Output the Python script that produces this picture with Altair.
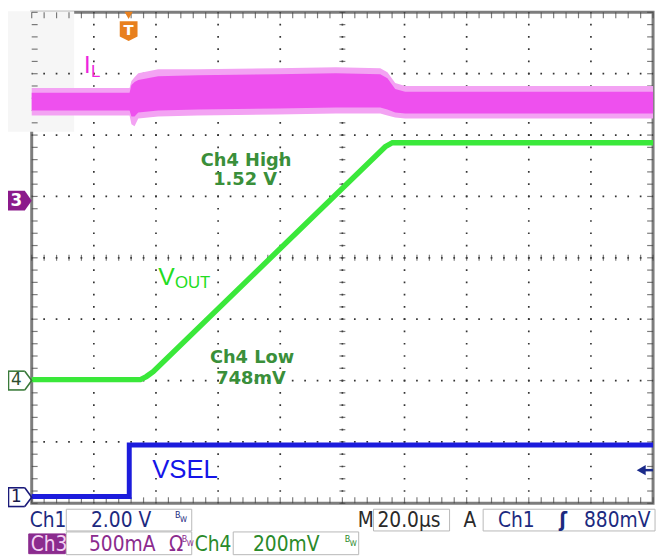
import altair as alt
import pandas as pd

# ------------------------------------------------------------------ scope data
# horizontal: 20 us/div, 10 divisions, trigger point (T) at 0 us
T_START = -31.2
T_DIV = 20.0
N_HDIV = 10
T_END = T_START + T_DIV * N_HDIV
N_VDIV = 8
T_TRIG = 0.0

# channel settings (units per division, marker position in divisions)
CH1_SCALE, CH1_POS = 2.0, -3.9                      # VSEL   (V/div)
CH3_SCALE, CH3_POS = 0.5, 0.93                      # IL     (A/div)
CH4_SCALE, CH4_POS, CH4_OFFSET = 0.2, -2.0, 0.745   # VOUT   (V/div)
TRIG_LEVEL = 0.88                                   # V on Ch1

# VSEL (Ch1) in volts
vsel_t = [T_START, 0.2, 0.2, T_END]
vsel_v = [0.02, 0.02, 1.70, 1.70]

# VOUT (Ch4) in volts
vout_t = [T_START, 3.8, 5.7, 7.9, 82.6, 84.9, T_END]
vout_v = [0.748, 0.748, 0.758, 0.774, 1.507, 1.520, 1.520]

# IL (Ch3) ripple in amps: spike envelope and dense core
il_t = [T_START, 0.3, 0.9, 1.9, 3.1, 9.5, 22.2, 47.7, 66.7, 81.0, 83.3, 85.8, 89.0, T_END]
il_peak_hi = [0.919, 0.919, 0.975, 1.007, 1.039, 1.071, 1.071, 1.079, 1.087, 1.079, 1.047, 0.959, 0.935, 0.935]
il_peak_lo = [0.695, 0.695, 0.623, 0.607, 0.671, 0.687, 0.695, 0.703, 0.711, 0.711, 0.695, 0.679, 0.671, 0.671]
il_core_hi = [0.879, 0.879, 0.943, 0.967, 0.983, 1.015, 1.023, 1.031, 1.039, 1.031, 0.999, 0.911, 0.887, 0.887]
il_core_lo = [0.735, 0.735, 0.687, 0.687, 0.719, 0.735, 0.743, 0.751, 0.759, 0.759, 0.743, 0.719, 0.711, 0.711]

# ------------------------------------------------------------------ tables
vsel_df = pd.DataFrame({"i": range(len(vsel_t)), "t": vsel_t,
                        "d": [v / CH1_SCALE + CH1_POS for v in vsel_v]})
vout_df = pd.DataFrame({"i": range(len(vout_t)), "t": vout_t,
                        "d": [(v - CH4_OFFSET) / CH4_SCALE + CH4_POS for v in vout_v]})


def ch3(a):
    return a / CH3_SCALE + CH3_POS


il_df = pd.DataFrame({"t": il_t,
                      "phi": [ch3(a) for a in il_peak_hi], "plo": [ch3(a) for a in il_peak_lo],
                      "chi": [ch3(a) for a in il_core_hi], "clo": [ch3(a) for a in il_core_lo]})

W, H = 629, 497
xs = alt.Scale(domain=[T_START, T_END], nice=False, zero=False)
ys = alt.Scale(domain=[-N_VDIV / 2, N_VDIV / 2], nice=False, zero=False)


def X(f):
    return alt.X(f, type="quantitative", scale=xs, axis=None)


def Y(f):
    return alt.Y(f, type="quantitative", scale=ys, axis=None)


ONE = pd.DataFrame({"k": [0]})
PX0, PY0 = 32, 9          # page position of plot origin


def ipy(y):               # in-plot annotation y (reference page px -> plot px)
    return (y - 6) * H / 500


def label(text, x, y, size, color, font="Liberation Sans", weight="normal",
          align="left", baseline="alphabetic", inplot=True):
    py = ipy(y) if inplot else y - PY0
    return alt.Chart(ONE).mark_text(
        text=text, fontSize=size, color=color, font=font, fontWeight=weight,
        align=align, baseline=baseline
    ).encode(x=alt.value(x - PX0), y=alt.value(py))


def box(x1, x2, y1, y2, fill="white", stroke="#b8b8b8"):
    return alt.Chart(ONE).mark_rect(fill=fill, stroke=stroke, strokeWidth=1).encode(
        x=alt.value(x1 - PX0), x2=alt.value(x2 - PX0),
        y=alt.value(y1 - PY0), y2=alt.value(y2 - PY0))


layers = []

# faint screenshot block top-left
layers.append(alt.Chart(ONE).mark_rect(fill="#f6f6f6").encode(
    x=alt.value(-24), x2=alt.value(43), y=alt.value(-1), y2=alt.value(121)))

# ------------------------------------------------------------------ graticule
vgrid = pd.DataFrame({"t": [T_START + T_DIV * k for k in range(1, N_HDIV)]})
hgrid = pd.DataFrame({"d": [-N_VDIV / 2 + k for k in range(1, N_VDIV)]})
layers.append(alt.Chart(vgrid).mark_rule(
    color="#333", strokeWidth=1.7, strokeDash=[1.7, H / 40 - 1.7], strokeDashOffset=0.85
).encode(x=X("t"), y=alt.value(0), y2=alt.value(H)))
layers.append(alt.Chart(hgrid).mark_rule(
    color="#333", strokeWidth=1.7, strokeDash=[1.7, W / 50 - 1.7], strokeDashOffset=0.85
).encode(y=Y("d"), x=alt.value(0), x2=alt.value(W)))

minor_t = pd.DataFrame({"t": [T_START + T_DIV / 5 * k for k in range(N_HDIV * 5 + 1)]})
minor_t["mid"] = 0.0
minor_d = pd.DataFrame({"d": [-N_VDIV / 2 + 0.2 * k for k in range(N_VDIV * 5 + 1)]})
minor_d["mid"] = T_START + T_DIV * N_HDIV / 2
tick_col = "#444"
layers += [
    alt.Chart(minor_t).mark_tick(orient="vertical", size=6, thickness=1.2, color=tick_col, yOffset=3)
    .encode(x=X("t"), y=alt.value(0)),
    alt.Chart(minor_t).mark_tick(orient="vertical", size=6, thickness=1.2, color=tick_col, yOffset=-3)
    .encode(x=X("t"), y=alt.value(H)),
    alt.Chart(minor_t).mark_tick(orient="vertical", size=6, thickness=1.2, color=tick_col)
    .encode(x=X("t"), y=Y("mid")),
    alt.Chart(minor_d).mark_tick(orient="horizontal", size=6, thickness=1.2, color=tick_col, xOffset=3)
    .encode(y=Y("d"), x=alt.value(0)),
    alt.Chart(minor_d).mark_tick(orient="horizontal", size=6, thickness=1.2, color=tick_col, xOffset=-3)
    .encode(y=Y("d"), x=alt.value(W)),
    alt.Chart(minor_d).mark_tick(orient="horizontal", size=6, thickness=1.2, color=tick_col)
    .encode(y=Y("d"), x=X("mid")),
]

# ------------------------------------------------------------------ traces
layers.append(alt.Chart(il_df).mark_area(color="#f3a3f3", opacity=1).encode(
    x=X("t"), y=Y("phi"), y2=alt.Y2("plo")))
layers.append(alt.Chart(il_df).mark_area(color="#ee50ee", opacity=1).encode(
    x=X("t"), y=Y("chi"), y2=alt.Y2("clo")))
layers.append(alt.Chart(vout_df).mark_line(color="#3ae83a", strokeWidth=5.5).encode(
    x=X("t"), y=Y("d"), order="i:Q"))
layers.append(alt.Chart(vsel_df).mark_line(color="#1c1cdc", strokeWidth=5).encode(
    x=X("t"), y=Y("d"), order="i:Q"))

# ------------------------------------------------------------------ in-plot labels
MAG = "#ee22dd"
G4 = "#3a8f3a"
layers += [
    label("I", 85, 68, 24, MAG),
    label("L", 92, 72, 17, MAG),
    label("V", 160, 284, 25, "#22dd22"),
    label("OUT", 177, 287, 17, "#22dd22"),
    label("VSEL", 154, 480, 26, "#1515e8"),
    label("Ch4 High", 249, 162, 18, G4, font="DejaVu Sans", weight="bold", align="center"),
    label("1.52 V", 248, 182, 18, G4, font="DejaVu Sans", weight="bold", align="center"),
    label("Ch4 Low", 255, 363, 18, G4, font="DejaVu Sans", weight="bold", align="center"),
    label("748mV", 254, 384, 18, G4, font="DejaVu Sans", weight="bold", align="center"),
]

# channel ground markers
# Ch3: filled pentagon
ch3_df = pd.DataFrame({"d": [CH3_POS]})
layers.append(alt.Chart(ch3_df).mark_point(shape="M-1.25,-1L0.55,-1L1.25,0L0.55,1L-1.25,1Z", size=400,
                                           filled=True, color="#8b1a8b", opacity=1)
              .encode(x=alt.value(-12.5), y=Y("d")))
layers.append(alt.Chart(ch3_df).mark_text(text="3", fontSize=17, color="white", font="DejaVu Sans",
                                          fontWeight="bold", align="center", baseline="middle", dx=-3)
              .encode(x=alt.value(-12.5), y=Y("d")))
# Ch4 / Ch1: outlined pentagons
for txt, pos, stroke, tcol in [("4", CH4_POS, "#3a7a3a", "#2f4f2f"), ("1", CH1_POS, "#1a1a7a", "#1a1a4a")]:
    mdf = pd.DataFrame({"d": [pos]})
    layers += [
        alt.Chart(mdf).mark_rule(color=stroke, strokeWidth=1.6, yOffset=-9.5)
        .encode(y=Y("d"), x=alt.value(-24), x2=alt.value(-7)),
        alt.Chart(mdf).mark_rule(color=stroke, strokeWidth=1.6, yOffset=9.5)
        .encode(y=Y("d"), x=alt.value(-24), x2=alt.value(-7)),
        alt.Chart(mdf).mark_rule(color=stroke, strokeWidth=1.6, yOffset=-9.5, y2Offset=9.5)
        .encode(y=Y("d"), y2=alt.Y2("d"), x=alt.value(-23.5)),
        alt.Chart(mdf).mark_point(shape="M-0.7,-1.9L0.7,0L-0.7,1.9", size=100, filled=False,
                                  color=stroke, strokeWidth=1.6, opacity=1)
        .encode(y=Y("d"), x=alt.value(-3.5)),
        alt.Chart(mdf).mark_text(text=txt, fontSize=17, color=tcol, font="DejaVu Sans",
                                 align="center", baseline="middle", dx=-3)
        .encode(x=alt.value(-12.5), y=Y("d")),
    ]

# trigger time marker (T)
ORANGE = "#e8801e"
trig_t = pd.DataFrame({"t": [T_TRIG]})
layers.append(alt.Chart(trig_t).mark_point(shape="triangle-down", size=70, filled=True, color=ORANGE, opacity=1)
              .encode(x=X("t"), y=alt.value(3)))
layers.append(alt.Chart(trig_t).mark_point(shape="M-0.9,-1L0.9,-1L0.9,0.55L0,1L-0.9,0.55Z", size=400,
                                           filled=True, color=ORANGE, opacity=1)
              .encode(x=X("t"), y=alt.value(19)))
layers.append(alt.Chart(trig_t).mark_text(text="T", fontSize=15, fontWeight="bold", color="white",
                                          font="DejaVu Sans", align="center", baseline="middle")
              .encode(x=X("t"), y=alt.value(18)))

# trigger level marker (right edge)
trig_df = pd.DataFrame({"d": [TRIG_LEVEL / CH1_SCALE + CH1_POS]})
layers.append(alt.Chart(trig_df).mark_rule(color="#1a2a8a", strokeWidth=2.5)
              .encode(y=Y("d"), x=alt.value(W - 12), x2=alt.value(W)))
layers.append(alt.Chart(trig_df).mark_point(shape="triangle-left", size=110, filled=True,
                                            color="#1a2a8a", opacity=1)
              .encode(y=Y("d"), x=alt.value(W - 12)))

# ------------------------------------------------------------------ readout
RF = "DejaVu Sans Condensed, DejaVu Sans"
NAVY = "#1c2a80"
PURP = "#8b2b8e"
GRN = "#2a8a2a"
DARK = "#2a2a2a"
R1, R2 = 530, 554


def ro(text, x, y, color, size=21, weight="normal"):
    return label(text, x, y, size, color, font=RF, weight=weight, inplot=False)


def bw(x, y, color):
    return [ro("B", x, y - 9, color, size=9), ro("W", x + 5, y - 5, color, size=8)]


layers += [
    box(67, 194, 512, 534), box(378, 455, 512, 534), box(489, 663, 512, 534),
    box(67, 194, 535, 558), box(236, 363, 535, 558),
    box(29, 66, 537, 557, fill=PURP, stroke=PURP),
    ro("Ch1", 30, R1, NAVY), ro("2.00 V", 92, R1, NAVY),
    ro("M", 362, R1, DARK), ro("20.0µs", 382, R1, DARK),
    ro("A", 469, R1, DARK), ro("Ch1", 504, R1, NAVY), ro("ʃ", 566, R1, NAVY, weight="bold"),
    ro("880mV", 591, R1, NAVY),
    ro("Ch3", 31, R2, "#f3d2f3"), ro("500mA", 90, R2, PURP), ro("Ω", 171, R2, PURP),
    ro("Ch4", 197, R2, GRN), ro("200mV", 256, R2, GRN),
]
layers += bw(177, R1, NAVY) + bw(184, R2, PURP) + bw(349, R2, GRN)

chart = alt.layer(*layers).properties(
    width=W, height=H,
    autosize=alt.AutoSizeParams(type="none"),
    padding={"left": 24, "top": 1, "right": 5, "bottom": 53},
    background="white",
).configure_view(stroke="#7d7d7d", strokeWidth=3)

chart.save("out.html", embed_options={"renderer": "svg", "actions": False})
